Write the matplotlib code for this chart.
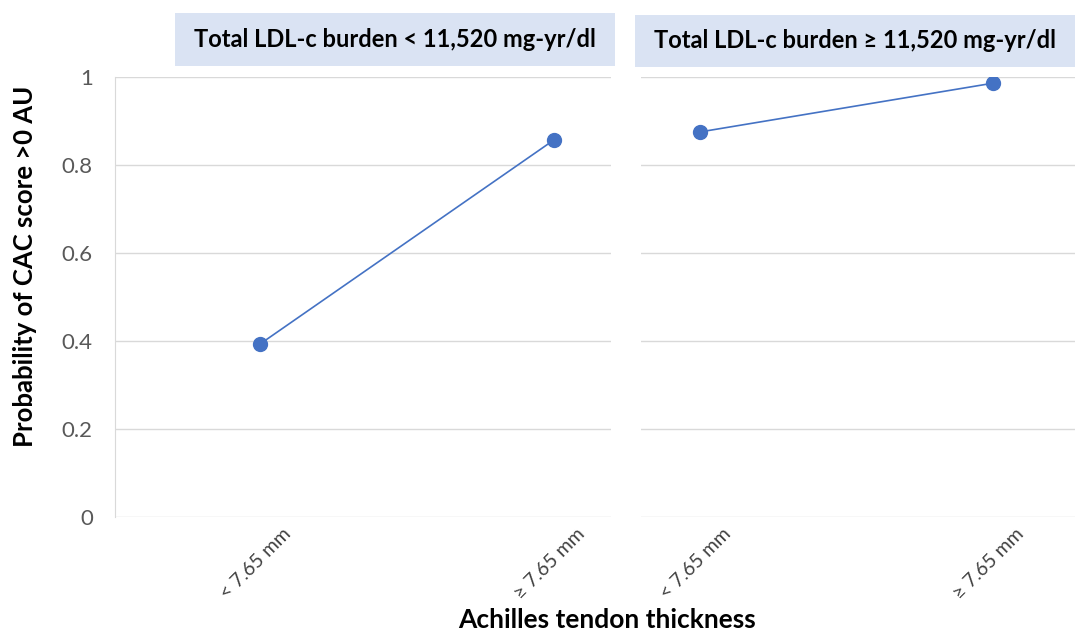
import matplotlib.pyplot as plt
from matplotlib.patches import Rectangle
from matplotlib.transforms import ScaledTranslation

plt.rcParams['font.family'] = ['Lato', 'DejaVu Sans']

# achilles tendon thickness groups and predicted probability of CAC > 0
groups = ['< 7.65 mm', '≥ 7.65 mm']
prob_low_ldl = [0.393, 0.857]
prob_high_ldl = [0.875, 0.986]
panel_titles = ['Total LDL-c burden < 11,520 mg-yr/dl',
                'Total LDL-c burden ≥ 11,520 mg-yr/dl']

W, H = 1075, 632
fig = plt.figure(figsize=(W / 100, H / 100), dpi=100)

def px(x0, y0, x1, y1):
    # pixel box (top-left origin) -> figure fraction rect
    return [x0 / W, 1 - y1 / H, (x1 - x0) / W, (y1 - y0) / H]

ax1 = fig.add_axes(px(115, 77, 611, 517))
ax2 = fig.add_axes(px(641, 77, 1075, 517))

blue = '#4472C4'
grid = '#D9D9D9'
for ax, vals, xl in [(ax1, prob_low_ldl, (-0.493, 1.194)),
                     (ax2, prob_high_ldl, (-0.2, 1.279))]:
    x = list(range(len(groups)))
    ax.plot(x, vals, color=blue, lw=1.2, marker='o', ms=10,
            markeredgecolor=blue, zorder=3)
    ax.set_xlim(*xl)
    ax.set_ylim(0, 1)
    ax.set_yticks([0, 0.2, 0.4, 0.6, 0.8, 1])
    ax.yaxis.grid(True, color=grid, lw=1)
    ax.set_axisbelow(True)
    for s in ['top', 'right', 'bottom']:
        ax.spines[s].set_visible(False)
    ax.spines['left'].set_color(grid)
    ax.set_xticks(x)
    ax.set_xticklabels(groups, rotation=45, ha='right', va='center',
                       rotation_mode='anchor', fontsize=14, color='#404040')
    ax.tick_params(axis='x', length=0, pad=10)
    ax.tick_params(axis='y', length=0)
    off = ScaledTranslation(28 / 100, 0, fig.dpi_scale_trans)
    for lab in ax.get_xticklabels():
        lab.set_transform(lab.get_transform() + off)

ax1.set_yticklabels(['0', '0.2', '0.4', '0.6', '0.8', '1'])
ax1.tick_params(axis='y', labelsize=16, labelcolor='#595959', pad=16)
ax2.spines['left'].set_visible(False)
ax2.tick_params(axis='y', labelleft=False)

# strip headers above each panel
strips = [(175, 13, 615, 66), (635, 15, 1075, 67)]
for (x0, y0, x1, y1), t in zip(strips, panel_titles):
    r = px(x0, y0, x1, y1)
    fig.patches.append(Rectangle((r[0], r[1]), r[2], r[3], transform=fig.transFigure,
                                 facecolor='#DAE3F3', edgecolor='none'))
    fig.text(r[0] + r[2] / 2, r[1] + r[3] / 2, t, ha='center', va='center',
             fontsize=17, fontweight='bold', color='#000000')

fig.text(25 / W, 1 - 266 / H, 'Probability of CAC score >0 AU', rotation=90,
         ha='center', va='center', fontsize=18.5, fontweight='bold')
fig.text(607 / W, 1 - 620 / H, 'Achilles tendon thickness', ha='center',
         va='center', fontsize=19, fontweight='bold')

fig.savefig('out.png', dpi=100)
